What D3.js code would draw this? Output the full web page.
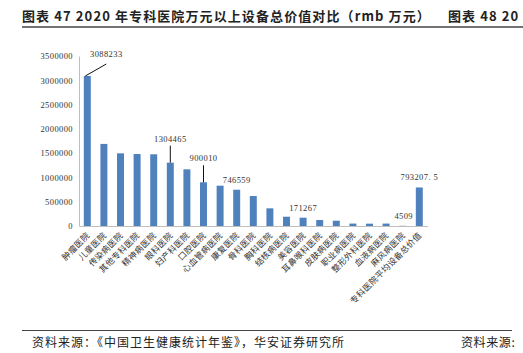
<!DOCTYPE html>
<html>
	<head>
		<meta charset="utf-8">
		<style>
			body { margin: 0; background: #fff; }
			#canvas svg { display: block; }
			.cjk { font-family: "Noto Sans CJK SC", sans-serif; }
			.num { font-family: "Liberation Serif", "DejaVu Serif", serif; }
		</style>
	</head>
	<body>
		<script src="https://cdn.jsdelivr.net/npm/d3@7/dist/d3.min.js"></script>
		<div id="canvas"></div>
		<script>
			var categories = ["肿瘤医院", "儿童医院", "传染病医院", "其他专科医院", "精神病医院", "眼科医院",
				"妇产科医院", "口腔医院", "心血管病医院", "康复医院", "骨科医院", "胸科医院", "结核病医院",
				"美容医院", "耳鼻喉科医院", "皮肤病医院", "职业病医院", "整形外科医院", "血液病医院",
				"麻风病医院", "专科医院平均设备总价值"];
			var values = [3088233, 1690000, 1496000, 1482000, 1476000, 1304465, 1167000, 900010, 830000,
				746559, 617000, 364000, 191000, 171267, 123000, 109000, 50000, 48000, 50000, 4509, 793207.5];
			// bars that carry a data label
			var labelled = ["肿瘤医院", "眼科医院", "口腔医院", "康复医院", "美容医院", "麻风病医院", "专科医院平均设备总价值"];
			var yTicks = [0, 500000, 1000000, 1500000, 2000000, 2500000, 3000000, 3500000];

			var width = 523;
			var height = 353;

			var svg = d3.select("#canvas")
				.append("svg")
				.attr("width", width)
				.attr("height", height);

			// header
			svg.append("text")
				.attr("class", "cjk")
				.attr("x", 22).attr("y", 21)
				.style("font-size", "13px").style("font-weight", "bold").style("fill", "#222")
				.style("letter-spacing", "1.1px")
				.text("图表 47 2020 年专科医院万元以上设备总价值对比（rmb 万元）");
			svg.append("text")
				.attr("class", "cjk")
				.attr("x", 448).attr("y", 21)
				.style("font-size", "13px").style("font-weight", "bold").style("fill", "#222")
				.style("letter-spacing", "1.1px")
				.text("图表 48 20");
			svg.append("line")
				.attr("x1", 22).attr("x2", 523).attr("y1", 27).attr("y2", 27)
				.style("stroke", "#444").style("stroke-width", 1.5);

			// footer
			svg.append("line")
				.attr("x1", 22).attr("x2", 512).attr("y1", 330.5).attr("y2", 330.5)
				.style("stroke", "#444").style("stroke-width", 1);
			svg.append("text")
				.attr("class", "cjk")
				.attr("x", 32).attr("y", 347)
				.style("font-size", "12px").style("fill", "#222").style("letter-spacing", "1px")
				.text("资料来源：《中国卫生健康统计年鉴》，华安证券研究所");
			svg.append("text")
				.attr("class", "cjk")
				.attr("x", 461).attr("y", 347)
				.style("font-size", "12px").style("fill", "#222").style("letter-spacing", "0.6px")
				.text("资料来源:");

			var x = d3.scaleBand()
				.domain(categories)
				.range([79, 427.6])
				.paddingInner(0.58)
				.paddingOuter(0.29);

			var y = d3.scaleLinear()
				.domain([0, 3500000])
				.range([226, 56]);

			// y axis
			var yAxis = svg.append("g")
				.attr("transform", "translate(79,0)")
				.call(d3.axisLeft(y).tickValues(yTicks).tickSize(0).tickPadding(6).tickFormat(d3.format("d")));
			yAxis.select(".domain").style("stroke", "#bfbfbf");
			yAxis.selectAll("text")
				.attr("class", "num")
				.style("font-size", "8.5px").style("fill", "#333").style("letter-spacing", "0.4px");

			// bars
			svg.append("g")
				.selectAll("rect")
				.data(values)
				.enter()
				.append("rect")
				.attr("x", function (d, i) { return x(categories[i]); })
				.attr("width", x.bandwidth())
				.attr("y", function (d) { return y(d); })
				.attr("height", function (d) { return y(0) - y(d); })
				.style("fill", "#4f81bd");

			// x axis
			var xAxis = svg.append("g")
				.attr("transform", "translate(0," + y(0) + ")")
				.call(d3.axisBottom(x).tickSize(0).tickSizeOuter(0).tickFormat(""));
			xAxis.select(".domain").style("stroke", "#bfbfbf");

			svg.append("g")
				.selectAll("text")
				.data(categories)
				.enter()
				.append("text")
				.attr("class", "cjk")
				.attr("transform", function (d) {
					return "translate(" + (x(d) + x.bandwidth() / 2 + 3) + "," + (y(0) + 10) + ") rotate(-45)";
				})
				.attr("text-anchor", "end")
				.style("font-size", "8.5px").style("fill", "#333").style("letter-spacing", "0.3px")
				.text(function (d) { return d; });

			// data labels, a few with leader lines
			var fmt = function (v) { return v % 1 ? String(v).replace(".", ". ") : String(v); };
			var lift = { "肿瘤医院": 19, "眼科医院": 21, "口腔医院": 21 };
			var shift = { "肿瘤医院": 19 };
			labelled.forEach(function (c) {
				var i = categories.indexOf(c);
				var cx = x(c) + x.bandwidth() / 2;
				var top = y(values[i]);
				var ly = top - (lift[c] || 7);
				var lx = cx + (shift[c] || 0);
				if (c === "麻风病医院") lx = cx + 1;
				svg.append("text")
					.attr("class", "num")
					.attr("x", lx).attr("y", ly)
					.attr("text-anchor", "middle")
					.style("font-size", "8.5px").style("fill", "#333").style("letter-spacing", "0.4px")
					.text(fmt(values[i]));
				if (lift[c]) {
					svg.append("line")
						.attr("x1", cx - (shift[c] ? 2 : 0)).attr("y1", top)
						.attr("x2", lx).attr("y2", ly + (shift[c] ? 7 : 4))
						.style("stroke", "#111").style("stroke-width", 1);
				}
			});
		</script>
	</body>
</html>
